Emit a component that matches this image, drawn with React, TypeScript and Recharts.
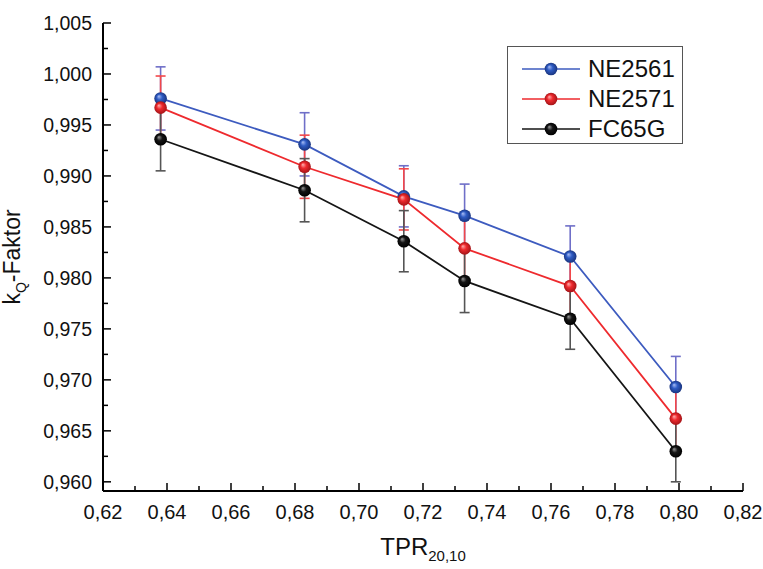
import React from "react";
import { LineChart, Line, XAxis, YAxis, ErrorBar, Legend, Label } from "recharts";

// TPR20,10 positions of the measured beam qualities
const tprValues = [0.638, 0.683, 0.714, 0.733, 0.766, 0.799];

// kQ factors per chamber
const ne2561 = [0.9976, 0.9931, 0.988, 0.9861, 0.9821, 0.9693];
const ne2571 = [0.9967, 0.9909, 0.9877, 0.9829, 0.9792, 0.9662];
const fc65g = [0.9936, 0.9886, 0.9836, 0.9797, 0.976, 0.963];

// uncertainties (error bars)
const ne2561Err = [0.0031, 0.0031, 0.003, 0.0031, 0.003, 0.003];
const ne2571Err = [0.0031, 0.0031, 0.003, 0.0031, 0.003, 0.003];
const fc65gErr = [0.0031, 0.0031, 0.003, 0.0031, 0.003, 0.003];

// axis ticks
const xMajor = [0.62, 0.64, 0.66, 0.68, 0.7, 0.72, 0.74, 0.76, 0.78, 0.8, 0.82];
const xMinor = [0.63, 0.65, 0.67, 0.69, 0.71, 0.73, 0.75, 0.77, 0.79, 0.81];
const yMajor = [0.96, 0.965, 0.97, 0.975, 0.98, 0.985, 0.99, 0.995, 1.0, 1.005];
const yMinor = [0.9625, 0.9675, 0.9725, 0.9775, 0.9825, 0.9875, 0.9925, 0.9975, 1.0025];

const FONT = '"Liberation Sans", Arial, Helvetica, sans-serif';
const X_MARGIN = 14;
const Y_MARGIN = 11;

const series = [
  { key: "ne2561", name: "NE2561", line: "#3d5bbf", err: "#6f6fc8", grad: "gBlue" },
  { key: "ne2571", name: "NE2571", line: "#ee2a2e", err: "#f2474a", grad: "gRed" },
  { key: "fc65g", name: "FC65G", line: "#151515", err: "#555555", grad: "gBlack" },
];

const chartData = tprValues.map((x, i) => ({
  x,
  ne2561: ne2561[i],
  ne2561Err: ne2561Err[i],
  ne2571: ne2571[i],
  ne2571Err: ne2571Err[i],
  fc65g: fc65g[i],
  fc65gErr: fc65gErr[i],
}));

const isMajor = (list: number[], v: number) => list.some((m) => Math.abs(m - v) < 1e-9);
const comma = (v: number, d: number) => v.toFixed(d).replace(".", ",");

function BottomTick(props: any) {
  const { x, y, payload } = props;
  const axisY = y - X_MARGIN;
  const major = isMajor(xMajor, payload.value);
  return (
    <g>
      <line x1={x} x2={x} y1={axisY} y2={axisY - (major ? 8 : 5)} stroke="#000" strokeWidth={1.5} />
      {major && (
        <text x={x} y={y} dy="0.71em" textAnchor="middle" fontSize={20} fontFamily={FONT} fill="#111">
          {comma(payload.value, 2)}
        </text>
      )}
    </g>
  );
}

function TopTick(props: any) {
  const { x, y, payload } = props;
  const axisY = y + X_MARGIN;
  const major = isMajor(xMajor, payload.value);
  return <line x1={x} x2={x} y1={axisY} y2={axisY + (major ? 8 : 5)} stroke="#000" strokeWidth={1.5} />;
}

function LeftTick(props: any) {
  const { x, y, payload } = props;
  const axisX = x + Y_MARGIN;
  const major = isMajor(yMajor, payload.value);
  return (
    <g>
      <line x1={axisX} x2={axisX + (major ? 8 : 5)} y1={y} y2={y} stroke="#000" strokeWidth={1.5} />
      {major && (
        <text x={x} y={y} dy="0.36em" textAnchor="end" fontSize={19.5} fontFamily={FONT} fill="#111">
          {comma(payload.value, 3)}
        </text>
      )}
    </g>
  );
}

function RightTick(props: any) {
  const { x, y, payload } = props;
  const axisX = x - Y_MARGIN;
  const major = isMajor(yMajor, payload.value);
  return <line x1={axisX} x2={axisX - (major ? 8 : 5)} y1={y} y2={y} stroke="#000" strokeWidth={1.5} />;
}

const makeDot = (grad: string) => (props: any) => {
  const { cx, cy, index } = props;
  if (cx == null || cy == null) return <g key={index} />;
  return <circle key={index} cx={cx} cy={cy} r={6.3} fill={`url(#${grad})`} />;
};

function XTitle(props: any) {
  const { viewBox } = props;
  const cx = viewBox.x + viewBox.width / 2;
  return (
    <text x={cx} y={555} textAnchor="middle" fontFamily={FONT} fill="#111" fontSize={24}>
      TPR
      <tspan fontSize={15} dy={6}>20,10</tspan>
    </text>
  );
}

function YTitle(props: any) {
  const { viewBox } = props;
  const cy = viewBox.y + viewBox.height / 2;
  const bx = 20;
  return (
    <text
      x={bx}
      y={cy}
      transform={`rotate(-90, ${bx}, ${cy})`}
      textAnchor="middle"
      fontFamily={FONT}
      fill="#111"
      fontSize={23}
    >
      k
      <tspan fontSize={14} dy={6}>Q</tspan>
      <tspan dy={-6}>-Faktor</tspan>
    </text>
  );
}

function LegendBox() {
  return (
    <div
      style={{
        width: 176,
        height: 98,
        boxSizing: "border-box",
        border: "1.5px solid #555",
        background: "#fff",
        paddingTop: 7,
      }}
    >
      {series.map((s) => (
        <div key={s.key} style={{ display: "flex", alignItems: "center", height: 30 }}>
          <svg width={58} height={20} style={{ marginLeft: 14, marginRight: 8 }}>
            <line x1={0} x2={58} y1={10} y2={10} stroke={s.line} strokeWidth={1.6} />
            <circle cx={29} cy={10} r={6.3} fill={`url(#${s.grad})`} />
          </svg>
          <span style={{ fontFamily: FONT, fontSize: 24, color: "#111", lineHeight: "24px" }}>{s.name}</span>
        </div>
      ))}
    </div>
  );
}

export default function App() {
  return (
    <div style={{ position: "absolute", left: 0, top: 0, width: 763, height: 569, background: "#fff" }}>
      <LineChart width={763} height={569} data={chartData} margin={{ top: 23, right: 20, bottom: 0, left: 0 }}>
        <defs>
          <radialGradient id="gBlue" cx="0.5" cy="0.5" r="0.5" fx="0.35" fy="0.32">
            <stop offset="0%" stopColor="#a9bdf5" />
            <stop offset="45%" stopColor="#2f5cc4" />
            <stop offset="100%" stopColor="#1a3580" />
          </radialGradient>
          <radialGradient id="gRed" cx="0.5" cy="0.5" r="0.5" fx="0.35" fy="0.32">
            <stop offset="0%" stopColor="#ffb0b0" />
            <stop offset="45%" stopColor="#ee2a2e" />
            <stop offset="100%" stopColor="#a51418" />
          </radialGradient>
          <radialGradient id="gBlack" cx="0.5" cy="0.5" r="0.5" fx="0.35" fy="0.32">
            <stop offset="0%" stopColor="#9a9a9a" />
            <stop offset="45%" stopColor="#151515" />
            <stop offset="100%" stopColor="#000" />
          </radialGradient>
        </defs>
        <XAxis
          dataKey="x"
          type="number"
          domain={[0.62, 0.82]}
          allowDataOverflow
          ticks={[...xMajor, ...xMinor]}
          interval={0}
          height={78}
          tickSize={0}
          tickMargin={X_MARGIN}
          tickLine={false}
          tick={<BottomTick />}
          axisLine={{ stroke: "#000", strokeWidth: 2 }}
        >
          <Label content={<XTitle />} />
        </XAxis>
        <XAxis
          xAxisId="top"
          orientation="top"
          dataKey="x"
          type="number"
          domain={[0.62, 0.82]}
          allowDataOverflow
          ticks={[...xMajor, ...xMinor]}
          interval={0}
          height={0}
          tickSize={0}
          tickMargin={X_MARGIN}
          tickLine={false}
          tick={<TopTick />}
          axisLine={{ stroke: "#000", strokeWidth: 2 }}
        />
        <YAxis
          type="number"
          domain={[0.9591, 1.005]}
          allowDataOverflow
          ticks={[...yMajor, ...yMinor]}
          interval={0}
          width={103}
          tickSize={0}
          tickMargin={Y_MARGIN}
          tickLine={false}
          tick={<LeftTick />}
          axisLine={{ stroke: "#000", strokeWidth: 2 }}
        >
          <Label content={<YTitle />} />
        </YAxis>
        <YAxis
          yAxisId="right"
          orientation="right"
          type="number"
          domain={[0.9591, 1.005]}
          allowDataOverflow
          ticks={[...yMajor, ...yMinor]}
          interval={0}
          width={0}
          tickSize={0}
          tickMargin={Y_MARGIN}
          tickLine={false}
          tick={<RightTick />}
          axisLine={{ stroke: "#000", strokeWidth: 2 }}
        />
        {series.map((s) => (
          <Line
            key={s.key}
            dataKey={s.key}
            name={s.name}
            type="linear"
            stroke={s.line}
            strokeWidth={1.8}
            dot={makeDot(s.grad)}
            activeDot={false}
            isAnimationActive={false}
          >
            <ErrorBar dataKey={`${s.key}Err`} width={5} stroke={s.err} strokeWidth={1.6} isAnimationActive={false} />
          </Line>
        ))}
        <Legend
          layout="vertical"
          align="center"
          verticalAlign="middle"
          wrapperStyle={{ position: "absolute", left: 507, top: 46, width: "auto" }}
          content={() => <LegendBox />}
        />
      </LineChart>
    </div>
  );
}
